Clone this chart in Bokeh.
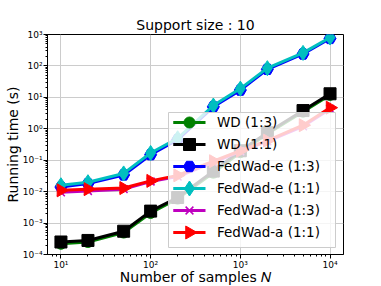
import numpy as np
from bokeh.plotting import figure
from bokeh.models import Legend, LegendItem, CustomJSTickFormatter, Range1d
from bokeh.embed import file_html
from bokeh.resources import INLINE

# ---- data ----
N = [10, 20, 50, 100, 200, 500, 1000, 2000, 5000, 10000]
wd_13 = [2.2e-4, 2.5e-4, 5.0e-4, 2.1e-3, 6.0e-3, 0.04, 0.18, 0.70, 3.5, 12]
wd_11 = [2.5e-4, 2.8e-4, 5.5e-4, 2.4e-3, 6.5e-3, 0.045, 0.20, 0.75, 3.8, 13]
fedwad_e_13 = [0.014, 0.018, 0.034, 0.15, 0.45, 5.0, 17, 78, 240, 750]
fedwad_e_11 = [0.016, 0.020, 0.038, 0.17, 0.50, 5.5, 19, 85, 260, 800]
fedwad_a_13 = [0.0095, 0.0105, 0.012, 0.021, 0.030, 0.085, 0.19, 0.40, 1.2, 4.3]
fedwad_a_11 = [0.011, 0.012, 0.013, 0.022, 0.033, 0.093, 0.20, 0.42, 1.3, 4.7]

labels = ["WD (1:3)", "WD (1:1)", "FedWad-e (1:3)", "FedWad-e (1:1)",
          "FedWad-a (1:3)", "FedWad-a (1:1)"]
title_text = "Support size : 10"
xlabel = "Number of samples \U0001D441"
ylabel = "Running time (s)"

FONT = "DejaVu Sans"
FW, FH = 296, 220
XLO, XHI = 7.08, 14125
YLO, YHI = 1e-4, 1e3

p = figure(frame_width=FW, frame_height=FH, x_axis_type="log", y_axis_type="log",
           x_range=Range1d(XLO, XHI), y_range=Range1d(YLO, YHI),
           output_backend="svg", toolbar_location=None,
           min_border_left=47, min_border_right=37, min_border_top=34,
           min_border_bottom=31)

p.title.text = title_text
p.title.align = "center"
p.title.vertical_align = "bottom"
p.title.text_font = FONT
p.title.text_font_style = "normal"
p.title.text_font_size = "14px"
p.title.text_color = "black"
p.title.standoff = 4

sup = CustomJSTickFormatter(code="""
const e = Math.round(Math.log10(tick));
const m = {'0':'\u2070','1':'\u00b9','2':'\u00b2','3':'\u00b3','4':'\u2074','5':'\u2075','6':'\u2076','7':'\u2077','8':'\u2078','9':'\u2079','-':'\u207b'};
let s = '';
for (const c of String(e)) s += m[c];
return '10' + s;
""")

for ax in (p.xaxis[0], p.yaxis[0]):
    ax.formatter = sup
    ax.major_label_text_font = FONT
    ax.major_label_text_font_size = "9px"
    ax.major_label_text_color = "black"
    ax.major_label_standoff = 1
    ax.axis_label_text_font = FONT
    ax.axis_label_text_font_size = "14px"
    ax.axis_label_text_font_style = "normal"
    ax.axis_label_text_color = "black"
    ax.major_tick_out = 4
    ax.major_tick_in = 0
    ax.minor_tick_out = 2
    ax.minor_tick_in = 0
    ax.axis_line_color = "black"
    ax.major_tick_line_color = "black"
    ax.minor_tick_line_color = "black"

p.xaxis.axis_label = xlabel
p.yaxis.axis_label = ylabel
p.xaxis.axis_label_standoff = -4
p.yaxis.axis_label_standoff = -1

p.xgrid.grid_line_color = "#cccccc"
p.ygrid.grid_line_color = "#cccccc"
p.xgrid.grid_line_width = 1
p.ygrid.grid_line_width = 1
p.outline_line_color = "black"
p.outline_line_width = 1

LW = 3
colors = ["#008000", "black", "#0000ff", "#00bfbf", "#bf00bf", "#ff0000"]
series = [wd_13, wd_11, fedwad_e_13, fedwad_e_11, fedwad_a_13, fedwad_a_11]
markers = ["circle", "square", "hex", "diamond", "x", "triangle"]
msizes = [11, 12, 12, 15, 11, 13]

def mkw(mk):
    kw = {}
    if mk == "x":
        kw["line_width"] = 1.5
    if mk == "triangle":
        kw["angle"] = -np.pi / 2
    return kw

items = []
for ys, c, mk, ms, lab in zip(series, colors, markers, msizes, labels):
    r1 = p.line(N, ys, line_color=c, line_width=LW)
    p.scatter(N, ys, marker=mk, size=ms, fill_color=c, line_color=c, **mkw(mk))
    items.append(LegendItem(label=lab, renderers=[r1]))

# ---- legend: frame-relative pixel layout ----
LX, LY, PAD, GH, SP, GW, STAND = 122, 8, 4, 20, 2, 32, 12
BOX = (121, 7, 288, 142)  # left, bottom, right, top

lx0, lx1 = np.log10(XLO), np.log10(XHI)
ly0, ly1 = np.log10(YLO), np.log10(YHI)
def dx(sx):
    return 10 ** (lx0 + sx / FW * (lx1 - lx0))
def dy(sy):
    return 10 ** (ly0 + sy / FH * (ly1 - ly0))

# translucent legend frame (drawn above the data)
p.quad(left=[dx(BOX[0])], right=[dx(BOX[2])], bottom=[dy(BOX[1])], top=[dy(BOX[3])],
       fill_color="white", fill_alpha=0.8, line_color="#cccccc", line_width=1)

n = len(items)
top = LY + 2 * PAD + n * GH + (n - 1) * SP
gx = LX + PAD + GW / 2
rows = [top - PAD - GH / 2 - i * (GH + SP) for i in range(n)]
for i, (c, mk, ms) in enumerate(zip(colors, markers, msizes)):
    p.line([dx(gx - GW / 2), dx(gx + GW / 2)], [dy(rows[i])] * 2,
           line_color=c, line_width=LW)
    p.scatter([dx(gx)], [dy(rows[i])], marker=mk, size=ms, fill_color=c,
              line_color=c, **mkw(mk))

legend = Legend(items=items, location=(LX, LY))
legend.label_text_font = FONT
legend.label_text_font_size = "13.5px"
legend.label_text_color = "black"
legend.glyph_width = GW
legend.glyph_height = GH
legend.label_height = GH
legend.spacing = SP
legend.label_standoff = STAND
legend.padding = PAD
legend.margin = 0
legend.background_fill_alpha = 0.0
legend.border_line_alpha = 0.0
p.add_layout(legend)

open("out.html", "w").write(file_html(p, INLINE))
